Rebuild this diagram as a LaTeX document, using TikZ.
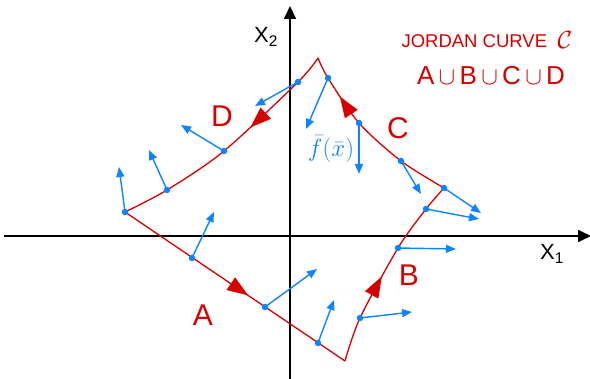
\documentclass[tikz,border=0pt]{standalone}
\usepackage{fontspec}
\setmainfont{Liberation Sans}
\usetikzlibrary{arrows.meta,decorations.markings}
\definecolor{cred}{RGB}{214,0,0}
\definecolor{cblue}{RGB}{16,132,255}
\begin{document}
\begin{tikzpicture}[x=1pt,y=-1pt,
  axis/.style={line width=1.7pt,-{Triangle[length=13pt,width=12pt]}},
  curve/.style={cred,line width=1.3pt},
  dot/.style={circle,fill=cblue,inner sep=0pt,minimum size=6.5pt},
  field/.style={cblue,line width=1.4pt,-{Triangle[length=10pt,width=8pt]}},
  midarrow/.style={postaction={decorate},decoration={markings,
     mark=at position #1 with {\arrow{Triangle[length=21pt,width=15pt]}}}},
  lbl/.style={cred,font=\fontsize{30}{30}\selectfont},
  axlbl/.style={black,font=\fontsize{22}{22}\selectfont}
]
\useasboundingbox (0,0) rectangle (590,379);
% axes
\coordinate (xs) at (4,236); \coordinate (xe) at (591,236);
\coordinate (ys) at (290,380); \coordinate (ye) at (290,6);
\draw[axis] (xs) -- (xe);
\draw[axis] (ys) -- (ye);
\node[axlbl] (x2) at (266,37) {X\textsubscript{2}};
\node[axlbl] (x1) at (552,254) {X\textsubscript{1}};
% curve vertices
\coordinate (L) at (125,212);
\coordinate (Bv) at (345,361);
\coordinate (R) at (444,188);
\coordinate (T) at (318,58);
% points on curve
\coordinate (pa1) at (192,258);
\coordinate (pa2) at (265,307);
\coordinate (pa3) at (318,343);
\coordinate (pb1) at (360,318);
\coordinate (pb3) at (398,248);
\coordinate (pb4) at (426,209);
\coordinate (pc3) at (401,161);
\coordinate (pc2) at (359,123);
\coordinate (pc1) at (328,78);
\coordinate (pd4) at (298,82);
\coordinate (pd3) at (224,151);
\coordinate (pd2) at (167,190);
% red curve
\draw[curve,midarrow=0.56] (L) -- (Bv);
\draw[curve,midarrow=0.46] plot[smooth] coordinates {(Bv) (pb1) (pb3) (pb4) (R)};
\draw[curve,midarrow=0.76] plot[smooth] coordinates {(R) (pc3) (pc2) (pc1) (T)};
\draw[curve,midarrow=0.39] plot[smooth] coordinates {(T) (pd4) (pd3) (pd2) (L)};
% blue dots
\node[dot] (d1) at (L) {};
\node[dot] (d2) at (pd2) {};
\node[dot] (d3) at (pd3) {};
\node[dot] (d4) at (pd4) {};
\node[dot] (c1) at (pc1) {};
\node[dot] (c2) at (pc2) {};
\node[dot] (c3) at (pc3) {};
\node[dot] (c4) at (R) {};
\node[dot] (b4) at (pb4) {};
\node[dot] (b3) at (pb3) {};
\node[dot] (b1) at (pb1) {};
\node[dot] (a3) at (pa3) {};
\node[dot] (a2) at (pa2) {};
\node[dot] (a1) at (pa1) {};
% arrow tips
\coordinate (td1) at (119,167);
\coordinate (td2) at (149,150);
\coordinate (td3) at (181,125);
\coordinate (td4) at (255,106);
\coordinate (tc1) at (306,129);
\coordinate (tc2) at (359,174);
\coordinate (tc3) at (421,194);
\coordinate (tc4) at (481,213);
\coordinate (tb4) at (479,219);
\coordinate (tb3) at (456,249);
\coordinate (tb1) at (412,312);
\coordinate (ta3) at (334,300);
\coordinate (ta2) at (317,269);
\coordinate (ta1) at (214,212);
\draw[field] (d1.center) -- (td1);
\draw[field] (d2.center) -- (td2);
\draw[field] (d3.center) -- (td3);
\draw[field] (d4.center) -- (td4);
\draw[field] (c1.center) -- (tc1);
\draw[field] (c2.center) -- (tc2);
\draw[field] (c3.center) -- (tc3);
\draw[field] (c4.center) -- (tc4);
\draw[field] (b4.center) -- (tb4);
\draw[field] (b3.center) -- (tb3);
\draw[field] (b1.center) -- (tb1);
\draw[field] (a3.center) -- (ta3);
\draw[field] (a2.center) -- (ta2);
\draw[field] (a1.center) -- (ta1);
% labels
\node[lbl] (lA) at (203,315) {A};
\node[lbl] (lB) at (409,275) {B};
\node[lbl] (lC) at (398,128) {C};
\node[lbl] (lD) at (222,116) {D};
\node[cblue,font=\fontsize{23}{23}\selectfont,inner sep=0pt] (fx) at (331,149) {$\bar{f}(\bar{x})$};
\node[cred,font=\fontsize{18.5}{18.5}\selectfont,anchor=west] (jc) at (398,41) {JORDAN CURVE};
\node[cred,font=\fontsize{28}{28}\selectfont] (cc) at (565,40) {$\mathcal{C}$};
\node[cred,font=\fontsize{26}{26}\selectfont] (un) at (491,76) {A\,$\cup$\,B\,$\cup$\,C\,$\cup$\,D};
\end{tikzpicture}
\end{document}
